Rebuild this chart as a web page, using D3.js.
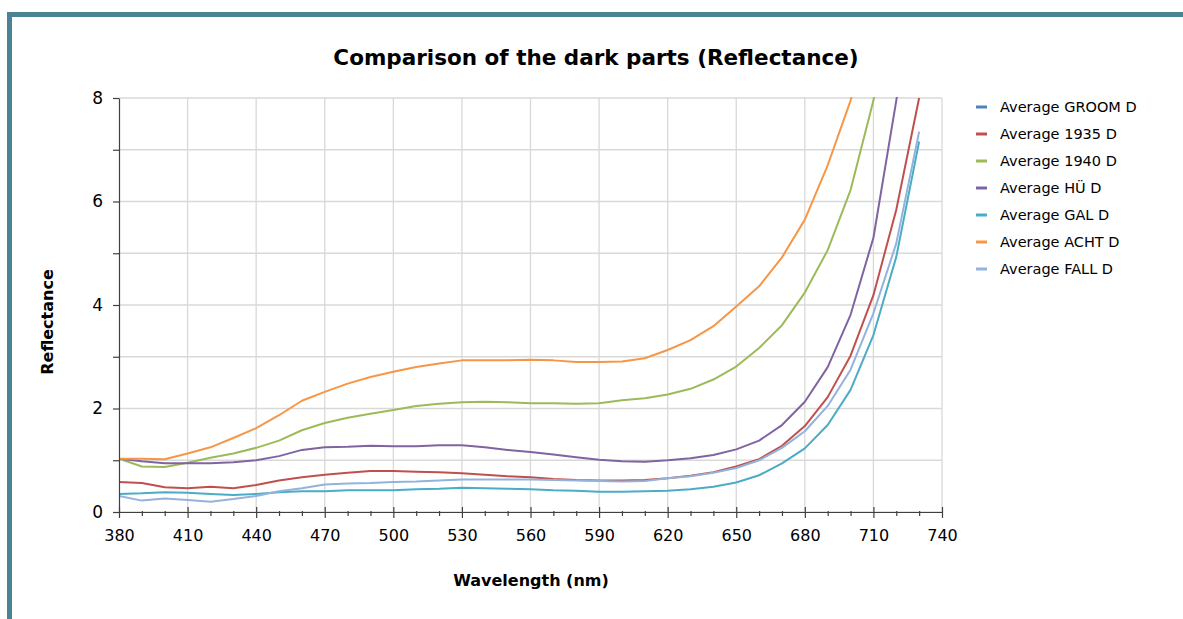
<!DOCTYPE html>
<html>
<head>
<meta charset="utf-8">
<script src="https://cdn.jsdelivr.net/npm/d3@7"></script>
<style>
  body { margin: 0; background: #fff; }
  text { font-family: "DejaVu Sans", Verdana, sans-serif; fill: #000; }
  .grid line { stroke: #d9d9d9; stroke-width: 1.3; }
  .axis path, .axis line { stroke: #404040; stroke-width: 1.2; }
  .axis text { font-size: 16px; }
</style>
</head>
<body>
<div class="chart"></div>
<script>
// wavelength sampling (nm)
var wavelengths = [380, 390, 400, 410, 420, 430, 440, 450, 460, 470, 480, 490,
  500, 510, 520, 530, 540, 550, 560, 570, 580, 590, 600, 610,
  620, 630, 640, 650, 660, 670, 680, 690, 700, 710, 720, 730];

var seriesNames = ["Average GROOM D", "Average 1935 D", "Average 1940 D", "Average HÜ D",
  "Average GAL D", "Average ACHT D", "Average FALL D"];
var seriesColors = ["#4f81bd", "#c0504d", "#9bbb59", "#8064a2", "#4bacc6", "#f79646", "#93b3dc"];

// GROOM has no visible line in the reference (legend entry only)
var groomD = [];
var d1935 = [0.58, 0.56, 0.48, 0.46, 0.49, 0.46, 0.52, 0.61, 0.67, 0.72, 0.76, 0.79,
  0.79, 0.78, 0.77, 0.75, 0.72, 0.69, 0.67, 0.64, 0.62, 0.61, 0.61, 0.62,
  0.65, 0.70, 0.77, 0.88, 1.02, 1.28, 1.66, 2.22, 3.02, 4.19, 5.84, 8.0];
var d1940 = [1.03, 0.88, 0.87, 0.95, 1.05, 1.13, 1.24, 1.38, 1.58, 1.72, 1.82, 1.90,
  1.97, 2.05, 2.09, 2.12, 2.13, 2.12, 2.10, 2.10, 2.09, 2.10, 2.16, 2.20,
  2.27, 2.38, 2.56, 2.81, 3.17, 3.61, 4.24, 5.06, 6.22, 7.95, 10.3, 13.2];
var huD = [1.03, 0.98, 0.94, 0.94, 0.94, 0.96, 1.00, 1.08, 1.20, 1.25, 1.26, 1.28,
  1.27, 1.27, 1.29, 1.29, 1.25, 1.20, 1.16, 1.11, 1.06, 1.01, 0.98, 0.97,
  1.00, 1.04, 1.10, 1.21, 1.38, 1.68, 2.13, 2.80, 3.81, 5.30, 7.95, 10.8];
var galD = [0.35, 0.36, 0.38, 0.37, 0.35, 0.33, 0.35, 0.38, 0.40, 0.40, 0.42, 0.42,
  0.42, 0.44, 0.45, 0.47, 0.46, 0.45, 0.44, 0.42, 0.41, 0.39, 0.39, 0.40,
  0.41, 0.44, 0.49, 0.57, 0.71, 0.94, 1.23, 1.68, 2.36, 3.42, 4.93, 7.16];
var achtD = [1.03, 1.03, 1.02, 1.13, 1.25, 1.43, 1.62, 1.87, 2.15, 2.32, 2.48, 2.61,
  2.71, 2.80, 2.87, 2.93, 2.93, 2.93, 2.94, 2.93, 2.90, 2.90, 2.91, 2.97,
  3.13, 3.32, 3.59, 3.97, 4.36, 4.92, 5.65, 6.70, 7.95, 9.5, 11.4, 13.7];
var fallD = [0.31, 0.22, 0.26, 0.23, 0.20, 0.25, 0.31, 0.40, 0.46, 0.53, 0.55, 0.56,
  0.58, 0.59, 0.61, 0.63, 0.63, 0.63, 0.63, 0.62, 0.61, 0.60, 0.59, 0.60,
  0.65, 0.69, 0.76, 0.85, 1.00, 1.24, 1.56, 2.05, 2.75, 3.84, 5.19, 7.35];

var seriesValues = [groomD, d1935, d1940, huD, galD, achtD, fallD];

var xTicks = [380, 410, 440, 470, 500, 530, 560, 590, 620, 650, 680, 710, 740];
var yTicks = [0, 2, 4, 6, 8];
var yMinor = [1, 3, 5, 7];

var svgWidth = 1183;
var svgHeight = 619;
var margin = { top: 98, right: 241, bottom: 107, left: 119 };
var width = svgWidth - margin.left - margin.right;
var height = svgHeight - margin.top - margin.bottom;

var root = d3.select(".chart")
  .append("svg")
  .attr("width", svgWidth)
  .attr("height", svgHeight);

// teal frame
root.append("rect")
  .attr("x", 9.5)
  .attr("y", 14.5)
  .attr("width", 1200)
  .attr("height", 700)
  .attr("fill", "none")
  .attr("stroke", "#4a8492")
  .attr("stroke-width", 5);

var chart = root.append("g")
  .attr("transform", "translate(" + margin.left + "," + margin.top + ")");

var xScale = d3.scaleLinear().domain([380, 740]).range([0, width]);
var yScale = d3.scaleLinear().domain([0, 8]).range([height, 0]);

// gridlines
var grid = chart.append("g").attr("class", "grid");
grid.selectAll(".hgrid")
  .data(yTicks.concat(yMinor))
  .enter().append("line")
  .attr("x1", 0).attr("x2", width)
  .attr("y1", function(d) { return yScale(d); })
  .attr("y2", function(d) { return yScale(d); });
grid.selectAll(".vgrid")
  .data(xTicks.slice(1))
  .enter().append("line")
  .attr("y1", 0).attr("y2", height)
  .attr("x1", function(d) { return xScale(d); })
  .attr("x2", function(d) { return xScale(d); });

chart.append("clipPath")
  .attr("id", "plotClip")
  .append("rect")
  .attr("x", 0).attr("y", -1)
  .attr("width", width).attr("height", height + 2);

var line = d3.line()
  .x(function(d) { return xScale(d.x); })
  .y(function(d) { return yScale(d.y); });

var lines = chart.append("g").attr("clip-path", "url(#plotClip)");
seriesValues.forEach(function(vals, i) {
  if (!vals.length) return;
  var pts = vals.map(function(v, j) { return { x: wavelengths[j], y: v }; });
  lines.append("path")
    .datum(pts)
    .attr("fill", "none")
    .attr("stroke", seriesColors[i])
    .attr("stroke-width", 2)
    .attr("stroke-linejoin", "round")
    .attr("d", line);
});

// x axis: major ticks every 30 nm, minor every 10 nm
var xMinorTicks = d3.range(380, 741, 10).filter(function(d) { return xTicks.indexOf(d) < 0; });
var xMinorAxis = chart.append("g")
  .attr("class", "axis")
  .attr("transform", "translate(0," + height + ")")
  .call(d3.axisBottom(xScale).tickValues(xMinorTicks).tickSize(4).tickSizeOuter(0).tickFormat(""));
xMinorAxis.select(".domain").remove();
xMinorAxis.selectAll(".tick line").attr("y1", -1);

var xAxis = chart.append("g")
  .attr("class", "axis")
  .attr("transform", "translate(0," + height + ")")
  .call(d3.axisBottom(xScale).tickValues(xTicks).tickSize(6).tickSizeOuter(0).tickPadding(12));
xAxis.selectAll(".tick line").attr("y1", -5);

// y axis
var yMinorAxis = chart.append("g")
  .attr("class", "axis")
  .call(d3.axisLeft(yScale).tickValues(yMinor).tickSize(6).tickSizeOuter(0).tickFormat(""));
yMinorAxis.select(".domain").remove();

var yAxis = chart.append("g")
  .attr("class", "axis")
  .call(d3.axisLeft(yScale).tickValues(yTicks).tickSize(6).tickSizeOuter(0).tickPadding(10));
yAxis.selectAll(".tick text").style("font-size", "17px");

// title
root.append("text")
  .attr("x", 596)
  .attr("y", 65)
  .attr("text-anchor", "middle")
  .style("font-size", "21.5px")
  .style("font-weight", "bold")
  .text("Comparison of the dark parts (Reflectance)");

// axis titles
root.append("text")
  .attr("x", 531)
  .attr("y", 586)
  .attr("text-anchor", "middle")
  .style("font-size", "16px")
  .style("font-weight", "bold")
  .text("Wavelength (nm)");

root.append("text")
  .attr("transform", "translate(53,322) rotate(-90)")
  .attr("text-anchor", "middle")
  .style("font-size", "16px")
  .style("font-weight", "bold")
  .text("Reflectance");

// legend
var legend = root.append("g")
  .attr("transform", "translate(976,107)");
var items = legend.selectAll(".item")
  .data(seriesNames)
  .enter().append("g")
  .attr("transform", function(d, i) { return "translate(0," + i * 27 + ")"; });
items.append("line")
  .attr("x1", 0).attr("x2", 11)
  .attr("y1", 0).attr("y2", 0)
  .attr("stroke", function(d, i) { return seriesColors[i]; })
  .attr("stroke-width", 3);
items.append("text")
  .attr("x", 24)
  .attr("y", 0)
  .attr("dy", "0.35em")
  .style("font-size", "14.5px")
  .text(function(d) { return d; });
</script>
</body>
</html>
